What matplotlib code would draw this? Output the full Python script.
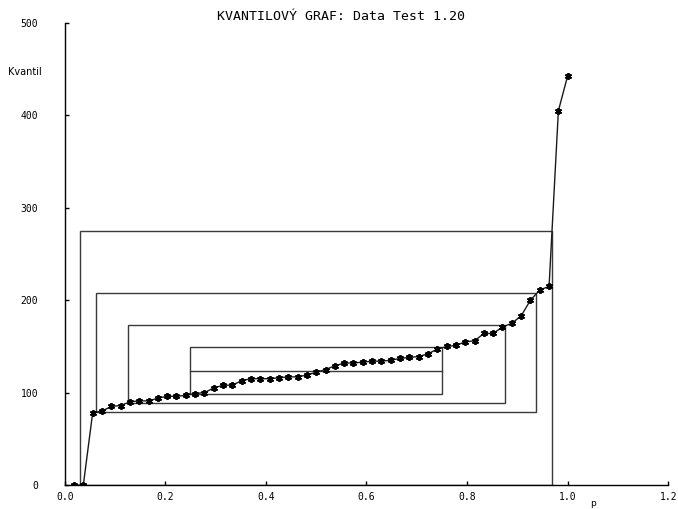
import numpy as np
import matplotlib
matplotlib.use("Agg")
import matplotlib.pyplot as plt
from matplotlib.patches import Rectangle

# sorted sample values (quantiles)
kvantily = [0, 0, 78, 80, 85, 86, 90, 91, 91, 94,
            96, 96, 97, 99, 100, 105, 108, 108, 113, 115,
            115, 115, 116, 117, 117, 119, 122, 125, 129, 132,
            132, 133, 134, 134, 135, 137, 138, 139, 142, 147,
            150, 151, 155, 156, 164, 164, 171, 175, 183, 200,
            211, 215, 405, 443]
n = len(kvantily)
p = np.arange(1, n + 1) / n

# letter-value boxes: (p low, p high, quantile low, quantile high)
box_p_lo = [0.031, 0.0625, 0.125, 0.25]
box_p_hi = [0.969, 0.9375, 0.875, 0.75]
box_q_lo = [0, 79, 89, 98]
box_q_hi = [275, 208, 173, 149]
median_q = 123

x_ticks = [0.0, 0.2, 0.4, 0.6, 0.8, 1.0, 1.2]
y_ticks = [0, 100, 200, 300, 400, 500]

W, H = 678, 509
fig = plt.figure(figsize=(W / 100, H / 100), dpi=100)
fig.patch.set_facecolor("white")
ax = fig.add_axes([64.7 / W, 24 / H, (668.3 - 64.7) / W, 462 / H])

# boxes
for plo, phi, qlo, qhi in zip(box_p_lo, box_p_hi, box_q_lo, box_q_hi):
    ax.add_patch(Rectangle((plo, qlo), phi - plo, qhi - qlo, fill=False,
                           edgecolor="#3a3a3a", linewidth=1.0, zorder=2))
ax.plot([box_p_lo[-1], box_p_hi[-1]], [median_q, median_q],
        color="#3a3a3a", linewidth=1.0, zorder=2)

# quantile curve
ax.plot(p, kvantily, color="#1a1a1a", linewidth=1.0, marker=(6, 2, 0),
        markersize=5, markeredgewidth=1.3, markeredgecolor="black", zorder=3)

ax.set_xlim(0, 1.2)
ax.set_ylim(0, 500)
ax.set_xticks(x_ticks)
ax.set_xticklabels([f"{t:.1f}" for t in x_ticks])
ax.set_yticks(y_ticks)
ax.set_yticklabels([str(t) for t in y_ticks])

for s in ["top", "right"]:
    ax.spines[s].set_visible(False)
for s in ["left", "bottom"]:
    ax.spines[s].set_linewidth(1.0)
    ax.spines[s].set_color("black")

ax.tick_params(axis="both", direction="in", length=3, width=1, colors="black",
               labelsize=7)
ax.tick_params(axis="y", pad=19)
ax.tick_params(axis="x", pad=5)
for lbl in ax.get_xticklabels() + ax.get_yticklabels():
    lbl.set_family("DejaVu Sans Mono")

fig.text(341 / W, 1 - 17 / H, "KVANTILOVÝ GRAF: Data Test 1.20",
         ha="center", va="center", fontsize=9.5, family="DejaVu Sans Mono")
fig.text(24.5 / W, 1 - 72 / H, "Kvantil", ha="center", va="center",
         fontsize=7, family="DejaVu Sans")
fig.text(593 / W, 1 - 504 / H, "p", ha="center", va="center",
         fontsize=6.5, family="DejaVu Sans")

fig.savefig("out.png", dpi=100)
